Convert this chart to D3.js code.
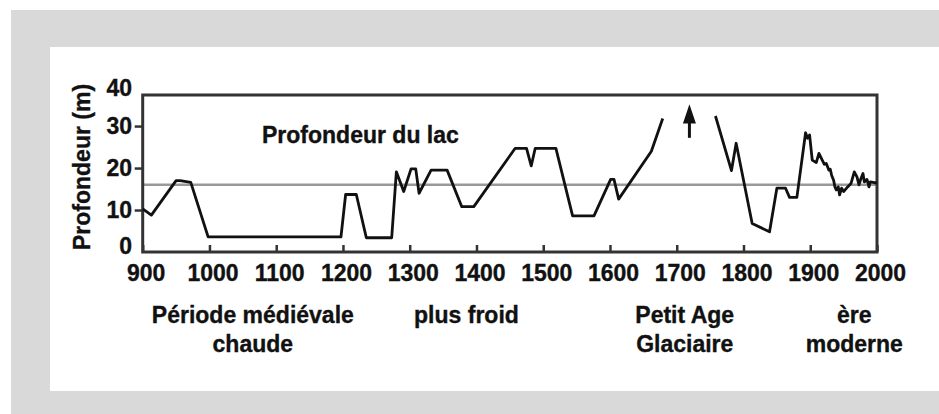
<!DOCTYPE html>
<html>
<head>
<meta charset="utf-8">
<script src="https://cdn.jsdelivr.net/npm/d3@7"></script>
<style>
  body { margin: 0; background: #fff; }
  svg text { font-family: "Liberation Sans", Arial, Helvetica, sans-serif; font-weight: bold; fill: #111; stroke: #111; stroke-width: 0.35px; }
</style>
</head>
<body>
<div></div>
<script>
var w = 939;
var h = 414;

// lake depth record (year, metres); null marks the gap around 1700
var years  = [900, 913, 950, 956, 972, 998, 1197, 1204, 1220, 1235, 1273, 1280, 1291, 1302, 1309, 1314,
              1332, 1356, 1378, 1396, 1458, 1475, 1482, 1488, 1519, 1544, 1576, 1601, 1606, 1613, 1662, 1679,
              1700,
              1758, 1782, 1789, 1813, 1839, 1850, 1863, 1869, 1880, 1893, 1896, 1899, 1903, 1909, 1913,
              1918, 1921, 1924, 1928, 1930, 1932, 1935, 1937, 1939, 1942, 1944, 1947, 1950, 1956, 1961,
              1966, 1970, 1973, 1976, 1979, 1981, 1985, 1988, 1990, 1996, 2000];
var depths = [10.3, 8.8, 17, 17, 16.6, 3.6, 3.6, 13.7, 13.7, 3.4, 3.4, 19.1, 14.4, 19.8, 19.8, 14,
              19.5, 19.5, 10.8, 10.8, 24.7, 24.7, 20.5, 24.7, 24.7, 8.6, 8.6, 17.3, 17.3, 12.6, 24, 31.8,
              null,
              32.4, 19.4, 25.9, 6.8, 4.8, 15.2, 15.2, 13, 13, 28.4, 27.1, 27.9, 21.9, 21.3, 23.5,
              21.9, 20.9, 21.1, 19.5, 19.7, 18.3, 17.1, 15.5, 14.8, 15.5, 13.6, 15.2, 14.4, 15.5, 16.3,
              19.1, 17.9, 16, 17.5, 18.7, 16.7, 17.3, 15.5, 16.7, 16.5, 16.5];

var meanDepth = 16;
var arrowYear = 1719;
var arrowFrom = 27.2;
var arrowTo = 35.2;

var xTicks = [900, 1000, 1100, 1200, 1300, 1400, 1500, 1600, 1700, 1800, 1900, 2000];
var yTicks = [10, 20, 30];
var yTickLabels = [0, 10, 20, 30, 40];

var periodYears  = [1065, 1385, 1712, 1966];
var periodLabels = [["Période médiévale", "chaude"], ["plus froid"], ["Petit Age", "Glaciaire"], ["ère", "moderne"]];

var seriesLabel = "Profondeur du lac";
var yTitle = "Profondeur (m)";

var plotL = 142.7, plotR = 877, plotT = 95, plotB = 252;

var x = d3.scaleLinear().domain([900, 2000]).range([plotL, plotR]);
var y = d3.scaleLinear().domain([0, 37.4]).range([plotB, plotT]);

var svg = d3.select("div").append("svg")
	.attr("width", w)
	.attr("height", h)
	.style("display", "block");

// grey frame around a white panel
svg.append("rect").attr("x", 11).attr("y", 10).attr("width", w - 11).attr("height", h - 10).attr("fill", "#d9d9d9");
svg.append("rect").attr("x", 50).attr("y", 47).attr("width", w - 50).attr("height", 344).attr("fill", "#fff");

// mean line
svg.append("line")
	.attr("x1", x(900)).attr("x2", x(2000))
	.attr("y1", y(meanDepth)).attr("y2", y(meanDepth))
	.attr("stroke", "#999").attr("stroke-width", 2.5);

//x axis: inward ticks, labels below
var xAxis = d3.axisBottom(x)
	.tickValues(xTicks)
	.tickSize(-7)
	.tickPadding(13)
	.tickFormat(d3.format("d"));

var xg = svg.append("g")
	.attr("transform", "translate(0," + plotB + ")")
	.call(xAxis);
xg.select(".domain").remove();
xg.selectAll("line").attr("stroke", "#333").attr("stroke-width", 2.5);
xg.selectAll("text")
	.attr("font-size", 23)
	.attr("font-family", null)
	.attr("dx", 3)
	.attr("fill", "#111");

//y axis: outward ticks, labels placed by hand
var yAxis = d3.axisLeft(y)
	.tickValues(yTicks)
	.tickSize(8)
	.tickFormat("");
var yg = svg.append("g")
	.attr("transform", "translate(" + plotL + ",0)")
	.call(yAxis);
yg.select(".domain").remove();
yg.selectAll("line").attr("stroke", "#333").attr("stroke-width", 2.5);

svg.selectAll("text.ylab")
	.data(yTickLabels)
	.enter()
	.append("text")
	.attr("class", "ylab")
	.attr("x", 132)
	.attr("y", function(d) { return Math.min(Math.max(y(d), 88), 246); })
	.attr("dy", "0.36em")
	.attr("text-anchor", "end")
	.attr("font-size", 23)
	.text(function(d) { return d; });

// frame
svg.append("rect")
	.attr("x", plotL).attr("y", plotT)
	.attr("width", plotR - plotL).attr("height", plotB - plotT)
	.attr("fill", "none")
	.attr("stroke", "#333")
	.attr("stroke-width", 3);

// depth line
var pts = years.map(function(d, i) { return [d, depths[i]]; });
var line = d3.line()
	.defined(function(d) { return d[1] !== null; })
	.x(function(d) { return x(d[0]); })
	.y(function(d) { return y(d[1]); });

svg.append("path")
	.datum(pts)
	.attr("d", line)
	.attr("fill", "none")
	.attr("stroke", "#111")
	.attr("stroke-width", 2.8)
	.attr("stroke-linejoin", "round");

// arrow pointing off the scale
svg.append("line")
	.attr("x1", x(arrowYear)).attr("x2", x(arrowYear))
	.attr("y1", y(arrowFrom)).attr("y2", y(arrowTo - 3))
	.attr("stroke", "#111").attr("stroke-width", 3);
svg.append("path")
	.attr("d", "M" + x(arrowYear) + "," + y(arrowTo) +
		"L" + (x(arrowYear) + 6.5) + "," + y(arrowTo - 4.6) +
		"L" + (x(arrowYear) - 6.5) + "," + y(arrowTo - 4.6) + "Z")
	.attr("fill", "#111");

svg.append("text")
	.attr("x", 262)
	.attr("y", 143)
	.attr("font-size", 23)
	.text(seriesLabel);

svg.append("text")
	.attr("transform", "translate(90,167) rotate(-90)")
	.attr("text-anchor", "middle")
	.attr("font-size", 23)
	.text(yTitle);

// period names under the axis
var pg = svg.selectAll("text.period")
	.data(periodLabels)
	.enter()
	.append("text")
	.attr("class", "period")
	.attr("text-anchor", "middle")
	.attr("font-size", 23)
	.attr("y", 323);

pg.selectAll("tspan")
	.data(function(d, i) { return d.map(function(s) { return {s: s, i: i}; }); })
	.enter()
	.append("tspan")
	.attr("x", function(d) { return x(periodYears[d.i]); })
	.attr("dy", function(d, j) { return j == 0 ? 0 : 28.5; })
	.text(function(d) { return d.s; });
</script>
</body>
</html>
